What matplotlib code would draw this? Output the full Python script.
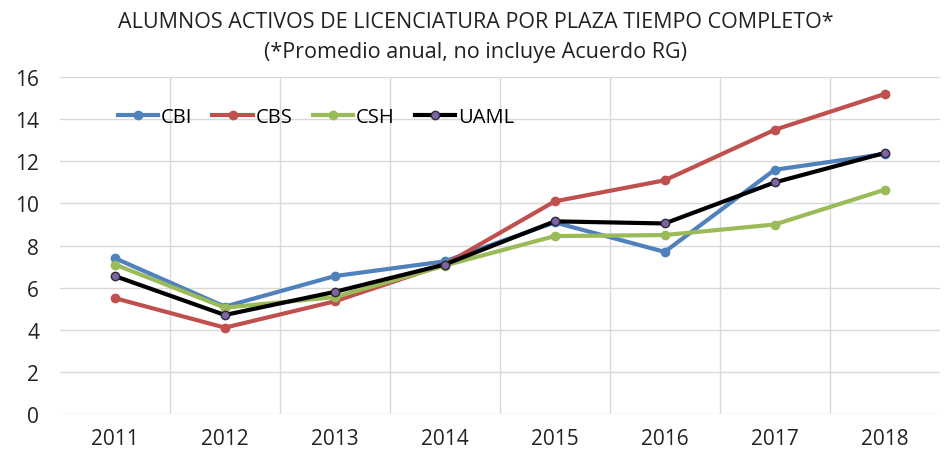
import matplotlib.pyplot as plt
import numpy as np

years = ["2011", "2012", "2013", "2014", "2015", "2016", "2017", "2018"]
cbi = [7.4, 5.1, 6.55, 7.25, 9.1, 7.7, 11.6, 12.35]
cbs = [5.5, 4.1, 5.35, 7.1, 10.1, 11.1, 13.5, 15.2]
csh = [7.1, 5.05, 5.55, 7.05, 8.45, 8.5, 9.0, 10.65]
uaml = [6.55, 4.7, 5.8, 7.1, 9.15, 9.05, 11.0, 12.4]

plt.rcParams["font.family"] = ["Open Sans", "DejaVu Sans"]

fig = plt.figure(figsize=(9.51, 4.6), dpi=100)
ax = fig.add_axes([0.063, 0.098, 0.925, 0.732])
x = np.arange(len(years))

ax.plot(x, cbi, color="#4F81BD", lw=3, marker="o", ms=6, label="CBI")
ax.plot(x, cbs, color="#C0504D", lw=3, marker="o", ms=6, label="CBS")
ax.plot(x, csh, color="#9BBB59", lw=3, marker="o", ms=6, label="CSH")
ax.plot(x, uaml, color="black", lw=3, marker="o", ms=6,
        markerfacecolor="#8064A2", markeredgecolor="#2a2a3a", label="UAML")

ax.set_xlim(-0.5, len(years) - 0.5)
ax.set_ylim(0, 16)
ax.set_yticks(np.arange(0, 17, 2))
ax.set_xticks(x)
ax.set_xticklabels(years)
ax.set_xticks(x[:-1] + 0.5, minor=True)
ax.grid(axis="y", color="#d9d9d9", lw=1)
ax.grid(axis="x", which="minor", color="#d9d9d9", lw=1)
ax.tick_params(which="both", length=0, labelsize=15, colors="#222222")
ax.tick_params(axis="y", pad=15)
ax.tick_params(axis="x", pad=10)
for s in ax.spines.values():
    s.set_visible(False)
ax.set_axisbelow(True)

ax.legend(loc="upper left", bbox_to_anchor=(0.045, 0.965), ncol=4, frameon=False,
          fontsize=14.5, handlelength=2.0, handletextpad=0.15, columnspacing=1.0)

fig.text(0.5, 0.952, "ALUMNOS ACTIVOS DE LICENCIATURA POR PLAZA TIEMPO COMPLETO*",
         ha="center", va="center", fontsize=15.5, color="#222222")
fig.text(0.5, 0.885, "(*Promedio anual, no incluye Acuerdo RG)",
         ha="center", va="center", fontsize=15.5, color="#222222")

fig.savefig("out.png", dpi=100)
